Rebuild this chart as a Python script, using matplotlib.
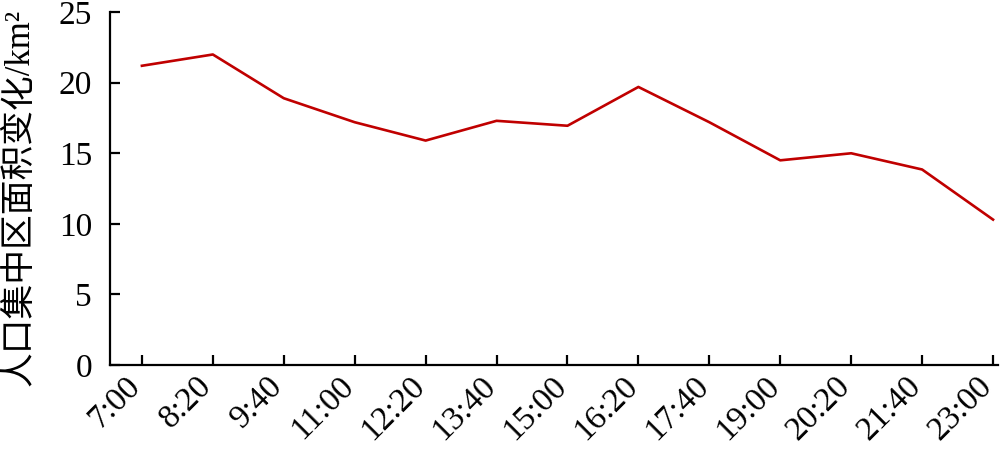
import matplotlib
matplotlib.use('Agg')
import matplotlib.pyplot as plt
import numpy as np

# horas de muestreo y superficie (km2)
times = ['7:00', '8:20', '9:40', '11:00', '12:20', '13:40', '15:00',
         '16:20', '17:40', '19:00', '20:20', '21:40', '23:00']
area = [21.2, 22.0, 18.9, 17.2, 15.9, 17.3, 16.95,
        19.7, 17.2, 14.5, 15.0, 13.85, 10.3]
yticks = [0, 5, 10, 15, 20, 25]

plt.rcParams['font.family'] = ['Liberation Serif', 'Noto Sans CJK SC']

fig = plt.figure(figsize=(10, 4.5), dpi=100)
ax = fig.add_axes([0.11, 0.189, 0.888, 0.784])

x = np.arange(len(times))
ax.plot(x, area, color='#C00000', linewidth=1.9)

ax.set_xlim(-0.45, len(times) - 1 + 0.07)
ax.set_ylim(0, 25)
ax.set_yticks(yticks)
ax.set_xticks(x)
ax.set_xticklabels(times, rotation=45, ha='right', va='baseline', rotation_mode='anchor')

for side in ['top', 'right']:
    ax.spines[side].set_visible(False)
for side in ['left', 'bottom']:
    ax.spines[side].set_linewidth(1.6)

ax.tick_params(axis='both', direction='in', length=7, width=1.6, labelsize=24)
ax.tick_params(axis='y', pad=13)
ax.tick_params(axis='x', pad=16)

ax.set_ylabel('人口集中区面积变化/km²', fontsize=25)
ax.yaxis.set_label_coords(-0.083, 0.476)

fig.savefig('out.png', dpi=100)
